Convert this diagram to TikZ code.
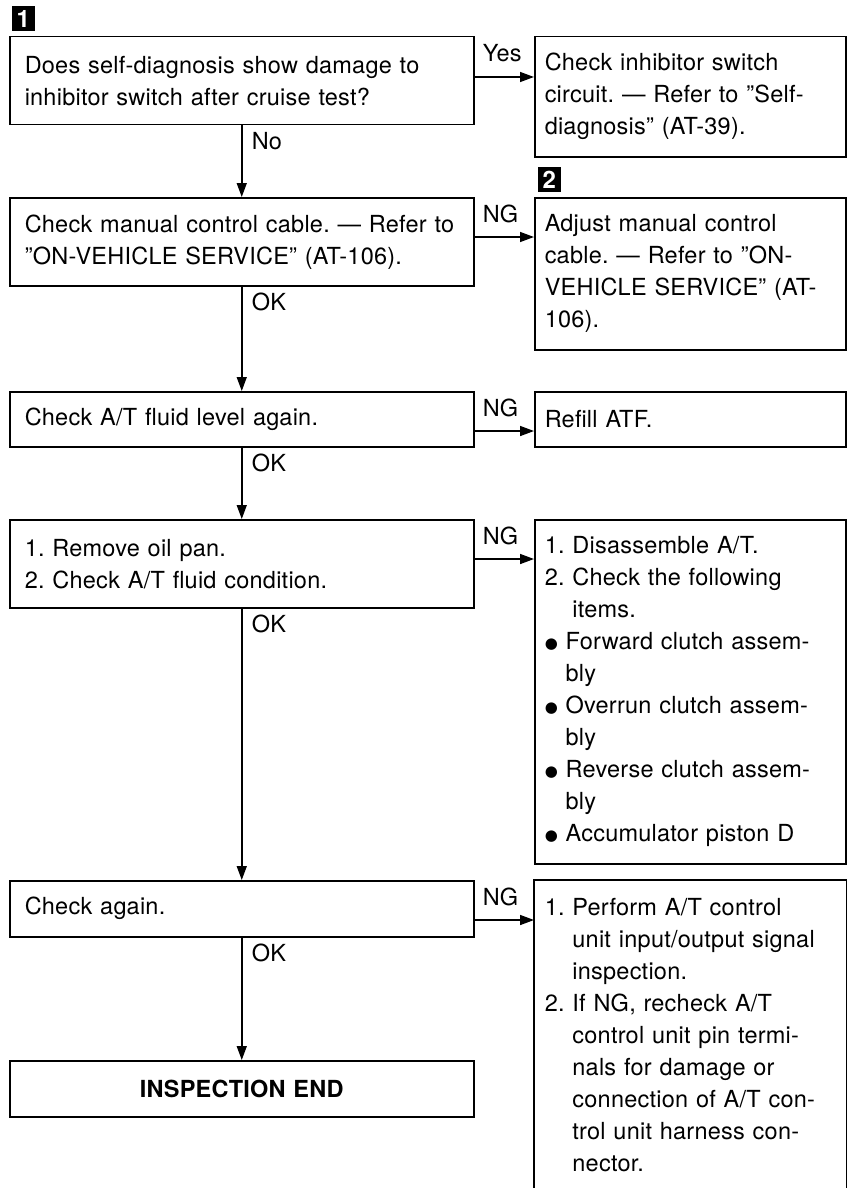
\documentclass[tikz,border=0pt]{standalone}
\usepackage{fontspec}
\setmainfont[LetterSpace=1]{TeX Gyre Heros}
\newfontfamily\symfont{DejaVu Sans}
\usetikzlibrary{arrows.meta}
\newcommand{\ind}{\hphantom{1.\ }}
\newcommand{\blt}{\raisebox{1pt}{\symfont\fontsize{15}{15}\selectfont ●}}
\newcommand{\bind}{\hphantom{\blt\ }}
\frenchspacing

\begin{document}
\begin{tikzpicture}[x=1pt, y=-1pt, line width=1.5pt,
  every node/.style={font=\fontsize{23.5}{32}\selectfont},
  lbox/.style={draw, anchor=north west, text width=434pt, inner xsep=15pt, inner ysep=0pt, align=left},
  rbox/.style={draw, anchor=north west, text width=291pt, inner xsep=10pt, inner ysep=0pt, align=left},
  tag/.style={anchor=west, inner sep=0pt},
  marker/.style={fill=black, text=white, font=\fontsize{24}{24}\selectfont\bfseries, minimum width=23pt, minimum height=25pt, inner sep=0pt, anchor=south west},
  flow/.style={-{Triangle[length=14pt,width=10pt]}}]
			\useasboundingbox (0,0) rectangle (851,1188);
			\node[marker] (m1) at (11,32) {1};
			\node[marker] (m2) at (537,193) {2};
			\node[lbox, minimum height=88pt] (l1) at (9,36) {Does self-diagnosis show damage to\\inhibitor switch after cruise test?};
			\node[rbox, minimum height=120pt] (r1) at (534,36) {Check inhibitor switch\\circuit. — Refer to ''Self-\\diagnosis'' (AT-39).};
			\node[lbox, minimum height=88pt] (l2) at (9,197) {\mbox{Check manual control cable. — Refer to}\\''ON-VEHICLE SERVICE'' (AT-106).};
			\node[rbox, minimum height=152pt] (r2) at (534,197) {Adjust manual control\\cable. — Refer to ''ON-\\VEHICLE SERVICE'' (AT-\\106).};
			\node[lbox, minimum height=55pt] (l3) at (9,391) {Check A/T fluid level again.};
			\node[rbox, minimum height=55pt] (r3) at (534,391) {Refill ATF.};
			\node[lbox, minimum height=88pt] (l4) at (9,519) {1. Remove oil pan.\\2. Check A/T fluid condition.};
			\node[rbox, minimum height=344pt] (r4) at (534,519) {1. Disassemble A/T.\\2. Check the following\\\ind items.\\\blt\ Forward clutch assem-\\\bind bly\\\blt\ Overrun clutch assem-\\\bind bly\\\blt\ Reverse clutch assem-\\\bind bly\\\blt\ Accumulator piston D};
			\node[lbox, minimum height=56pt] (l5) at (9,880) {Check again.};
			\node[rbox, draw=none, inner ysep=18pt] (r5) at (534,880) {1. Perform A/T control\\\ind \mbox{unit input/output signal}\\\ind inspection.\\2. If NG, recheck A/T\\\ind control unit pin termi-\\\ind nals for damage or\\\ind \mbox{connection of A/T con-}\\\ind \mbox{trol unit harness con-}\\\ind nector.};
			\node[lbox, minimum height=56pt, align=center] (end) at (9,1060) {\bfseries INSPECTION END};
			\node[tag] (yes) at (482,53) {Yes};
			\node[tag] (no) at (251,141) {No};
			\node[tag] (ng1) at (482,214) {NG};
			\node[tag] (ok1) at (251,302) {OK};
			\node[tag] (ng2) at (482,408) {NG};
			\node[tag] (ok2) at (251,463) {OK};
			\node[tag] (ng3) at (482,536) {NG};
			\node[tag] (ok3) at (251,624) {OK};
			\node[tag] (ng4) at (482,897) {NG};
			\node[tag] (ok4) at (251,953) {OK};
			\draw (r5.north west |- 0,1188) -- (r5.north west) -- (r5.north east) -- (r5.north east |- 0,1188);
			\draw[flow] ([yshift=-41pt]l1.north east) -- ([yshift=-41pt]r1.north west);
			\draw[flow] ([yshift=-40pt]l2.north east) -- ([yshift=-40pt]r2.north west);
			\draw[flow] ([yshift=-40pt]l3.north east) -- ([yshift=-40pt]r3.north west);
			\draw[flow] ([yshift=-40pt]l4.north east) -- ([yshift=-40pt]r4.north west);
			\draw[flow] ([yshift=-40pt]l5.north east) -- ([yshift=-40pt]r5.north west);
			\draw[flow] (l1.south) -- (l2.north); \draw[flow] (l2.south) -- (l3.north);
			\draw[flow] (l3.south) -- (l4.north); \draw[flow] (l4.south) -- (l5.north);
			\draw[flow] (l5.south) -- (end.north);
		\end{tikzpicture}
\end{document}
